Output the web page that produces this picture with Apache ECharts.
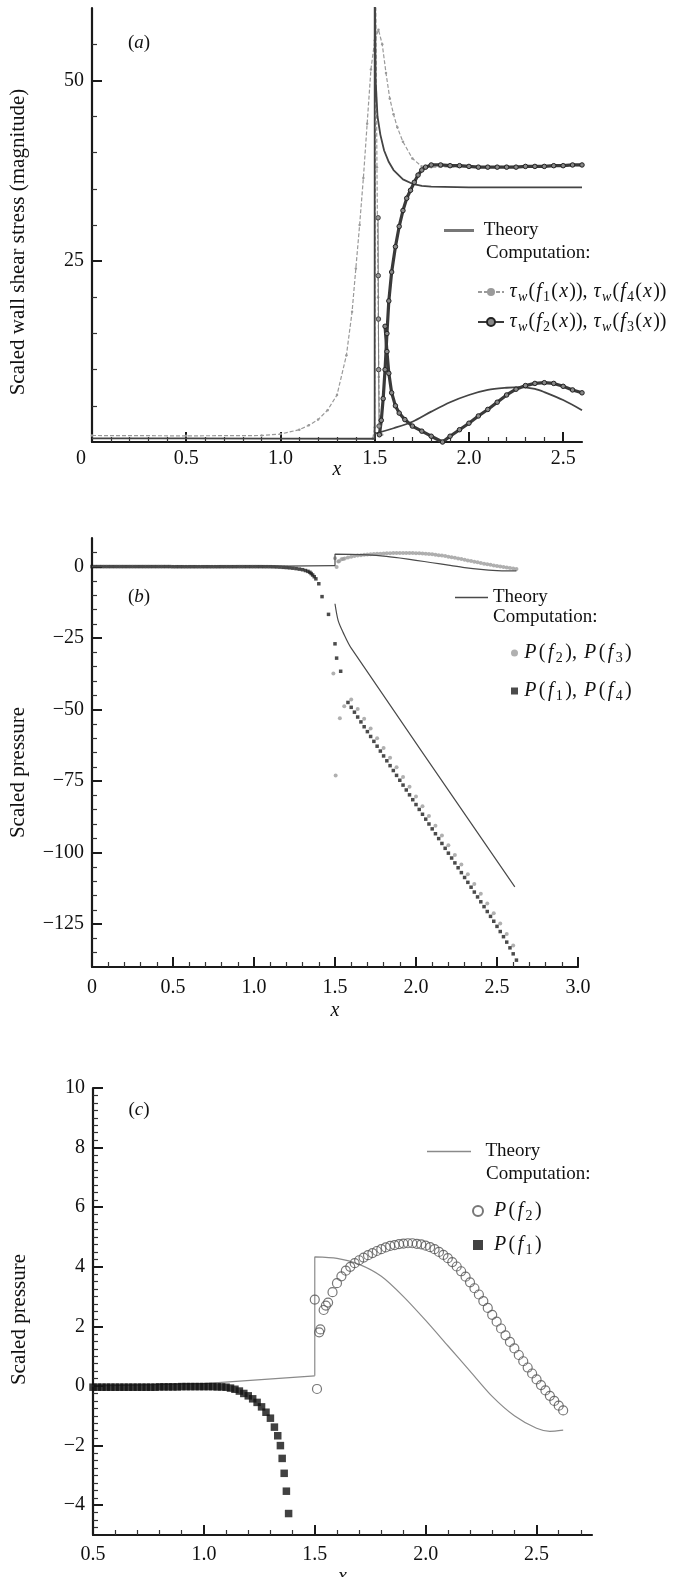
<!DOCTYPE html>
<html>
<head>
<meta charset="utf-8">
<script src="https://cdn.jsdelivr.net/npm/echarts@6/dist/echarts.min.js"></script>
<style>
html,body{margin:0;padding:0;background:#fff;}
#chart{width:673px;height:1577px;}
</style>
</head>
<body>
<div id="chart"></div>
<script>
// ---------------- Panel (a): scaled wall shear stress ----------------
const aXTicks = [0, 0.5, 1.0, 1.5, 2.0, 2.5];
const aYTicks = [25, 50];
const aTheoryUpX = [0, 0.5, 1.0, 1.5, 1.5, 1.505, 1.515, 1.53, 1.55, 1.575, 1.6, 1.65, 1.7, 1.75, 1.8, 2.0, 2.6];
const aTheoryUpY = [0.5, 0.5, 0.48, 0.45, 66, 50, 45, 42.5, 40.3, 38.7, 37.6, 36.3, 35.7, 35.4, 35.3, 35.2, 35.2];
const aTheoryLoX = [1.5, 1.6, 1.7, 1.8, 1.9, 2.0, 2.1, 2.2, 2.27, 2.35, 2.4, 2.5, 2.6];
const aTheoryLoY = [1.15, 1.9, 2.8, 4.2, 5.5, 6.5, 7.2, 7.5, 7.6, 7.35, 6.9, 5.8, 4.4];
const aTau1X = [0, 0.5, 0.9, 1.0, 1.1, 1.15, 1.2, 1.25, 1.3, 1.35, 1.38, 1.4, 1.42, 1.44, 1.46, 1.48, 1.5, 1.52, 1.54, 1.56, 1.58, 1.6, 1.62, 1.65, 1.7, 1.75, 1.8, 2.2, 2.6];
const aTau1Y = [0.9, 0.85, 0.9, 1.1, 1.7, 2.3, 3.1, 4.4, 6.5, 12, 18, 24, 30, 36.5, 44, 51.5, 55.5, 57, 55, 51, 47.5, 45.3, 43.5, 41.5, 39.2, 38.1, 38, 38.1, 38.2];
const aTau4X = [1.49, 1.5, 1.505, 1.512, 1.518, 1.522, 1.526, 1.53, 1.54];
const aTau4Y = [0.5, 2, 66, 38, 20, 9, 3, 1.5, 1.0];
const aTau3X = [1.525, 1.535, 1.545, 1.555, 1.565, 1.575, 1.59, 1.61, 1.63, 1.65, 1.67, 1.69, 1.71, 1.73, 1.75, 1.77, 1.8, 1.85, 1.9, 1.95, 2.0, 2.05, 2.1, 2.15, 2.2, 2.25, 2.3, 2.35, 2.4, 2.45, 2.5, 2.55, 2.6];
const aTau3Y = [1, 3, 6, 10, 15, 19.5, 23.5, 27, 29.8, 32, 33.7, 34.8, 35.9, 36.9, 37.6, 38.0, 38.3, 38.3, 38.2, 38.2, 38.1, 38.0, 38.0, 38.0, 38.0, 38.0, 38.1, 38.1, 38.1, 38.2, 38.2, 38.3, 38.3];
const aTau2aX = [1.518, 1.519, 1.52, 1.521, 1.523];
const aTau2aY = [31, 23, 17, 10, 2.2];
const aTau2bX = [1.555, 1.565, 1.575, 1.59, 1.61, 1.63, 1.66, 1.7, 1.75, 1.8, 1.86, 1.9, 1.95, 2.0, 2.05, 2.1, 2.15, 2.2, 2.25, 2.3, 2.35, 2.4, 2.45, 2.5, 2.55, 2.6];
const aTau2bY = [16, 12.5, 9.5, 6.8, 5.0, 4.0, 3.1, 2.2, 1.5, 0.8, 0.0, 0.8, 1.7, 2.6, 3.6, 4.5, 5.5, 6.5, 7.3, 7.8, 8.1, 8.2, 8.1, 7.7, 7.2, 6.8];

// ---------------- Panels (b) and (c): scaled pressure ----------------
const bXTicks = [0, 0.5, 1.0, 1.5, 2.0, 2.5, 3.0];
const bYTicks = [-125, -100, -75, -50, -25, 0];
const cXTicks = [0.5, 1.0, 1.5, 2.0, 2.5];
const cYTicks = [-4, -2, 0, 2, 4, 6, 8, 10];

const theoryPreX = [0, 0.5, 1.0, 1.5];
const theoryPreY = [0, 0.0, 0.08, 0.34];
const theoryPostX = [1.5, 1.5, 1.6, 1.7, 1.8, 1.9, 2.0, 2.1, 2.2, 2.3, 2.4, 2.5, 2.56, 2.62];
const theoryPostY = [0.34, 4.33, 4.28, 4.08, 3.68, 3.0, 2.2, 1.35, 0.5, -0.35, -1.0, -1.42, -1.52, -1.48];
const bTheoryLoX = [1.5, 1.52, 1.55, 1.6, 2.61];
const bTheoryLoY = [-13, -19, -23, -28.5, -112];

const pf2ScatX = [1.50, 1.51, 1.52, 1.525, 1.54, 1.55];
const pf2ScatY = [2.9, -0.1, 1.8, 1.9, 2.55, 2.7];
const pf2X = [1.56, 1.58, 1.60, 1.62, 1.64, 1.66, 1.68, 1.70, 1.72, 1.74, 1.76, 1.78, 1.80, 1.82, 1.84, 1.86, 1.88, 1.90, 1.92, 1.94, 1.96, 1.98, 2.00, 2.02, 2.04, 2.06, 2.08, 2.10, 2.12, 2.14, 2.16, 2.18, 2.20, 2.22, 2.24, 2.26, 2.28, 2.30, 2.32, 2.34, 2.36, 2.38, 2.40, 2.42, 2.44, 2.46, 2.48, 2.50, 2.52, 2.54, 2.56, 2.58, 2.60, 2.62];
const pf2Y = [2.8, 3.15, 3.45, 3.68, 3.87, 4.00, 4.12, 4.22, 4.31, 4.39, 4.46, 4.53, 4.59, 4.65, 4.70, 4.73, 4.76, 4.78, 4.79, 4.79, 4.77, 4.75, 4.71, 4.66, 4.59, 4.50, 4.40, 4.29, 4.16, 4.01, 3.85, 3.67, 3.48, 3.28, 3.07, 2.85, 2.62, 2.39, 2.16, 1.93, 1.70, 1.48, 1.26, 1.04, 0.83, 0.62, 0.42, 0.22, 0.03, -0.15, -0.33, -0.50, -0.66, -0.82];

const pf1X = [0.00, 0.02, 0.04, 0.06, 0.08, 0.10, 0.12, 0.14, 0.16, 0.18, 0.20, 0.22, 0.24, 0.26, 0.28, 0.30, 0.32, 0.34, 0.36, 0.38, 0.40, 0.42, 0.44, 0.46, 0.48,
  0.50, 0.52, 0.54, 0.56, 0.58, 0.60, 0.62, 0.64, 0.66, 0.68, 0.70, 0.72, 0.74, 0.76, 0.78, 0.80, 0.82, 0.84, 0.86, 0.88, 0.90, 0.92, 0.94, 0.96, 0.98,
  1.00, 1.02, 1.04, 1.06, 1.08, 1.10, 1.12, 1.14, 1.16, 1.18, 1.20, 1.22, 1.24, 1.26, 1.28, 1.30,
  1.318, 1.333, 1.345, 1.353, 1.362, 1.372, 1.382, 1.40, 1.42, 1.46, 1.50, 1.51, 1.535];
const pf1Y = [0, 0, 0, 0, 0, 0, 0, 0, 0, 0, 0, 0, 0, 0, 0, 0, 0, 0, 0, 0, 0, 0, 0, 0, 0,
  -0.04, -0.04, -0.04, -0.04, -0.04, -0.04, -0.04, -0.04, -0.04, -0.04, -0.04, -0.04, -0.04, -0.04, -0.04, -0.03, -0.03, -0.03, -0.03, -0.03, -0.02, -0.02, -0.02, -0.02, -0.02,
  -0.02, -0.02, -0.02, -0.03, -0.03, -0.04, -0.07, -0.11, -0.17, -0.25, -0.33, -0.43, -0.55, -0.70, -0.88, -1.08,
  -1.38, -1.67, -2.0, -2.43, -2.93, -3.53, -4.28, -6, -10.5, -16.7, -27, -32, -36.6];

const pf4X = [1.58, 1.60, 1.62, 1.64, 1.66, 1.68, 1.70, 1.72, 1.74, 1.76, 1.78, 1.80, 1.82, 1.84, 1.86, 1.88, 1.90, 1.92, 1.94, 1.96, 1.98, 2.00, 2.02, 2.04, 2.06, 2.08, 2.10, 2.12, 2.14, 2.16, 2.18, 2.20, 2.22, 2.24, 2.26, 2.28, 2.30, 2.32, 2.34, 2.36, 2.38, 2.40, 2.42, 2.44, 2.46, 2.48, 2.50, 2.52, 2.54, 2.56, 2.58, 2.60, 2.62];
const pf4Y = [-47.5, -49.2, -50.9, -52.6, -54.3, -56.0, -57.7, -59.4, -61.1, -62.8, -64.5, -66.2, -67.9, -69.6, -71.3, -73.0, -74.7, -76.4, -78.1, -79.8, -81.5, -83.2, -84.9, -86.6, -88.3, -90.0, -91.7, -93.4, -95.1, -96.8, -98.5, -100.2, -101.9, -103.6, -105.3, -107.0, -108.7, -110.4, -112.1, -113.8, -115.5, -117.2, -118.9, -120.6, -122.3, -124.0, -125.8, -127.6, -129.4, -131.3, -133.3, -135.4, -137.6];
const pf3X = [1.60, 1.64, 1.68, 1.72, 1.76, 1.80, 1.84, 1.88, 1.92, 1.96, 2.00, 2.04, 2.08, 2.12, 2.16, 2.20, 2.24, 2.28, 2.32, 2.36, 2.40, 2.44, 2.48, 2.52, 2.56, 2.60];
const pf3Y = [-46.5, -49.8, -53.2, -56.6, -60.0, -63.4, -66.8, -70.2, -73.6, -77.0, -80.4, -83.8, -87.2, -90.6, -94.0, -97.4, -100.8, -104.2, -107.6, -111.0, -114.4, -117.8, -121.2, -124.8, -128.5, -132.5];
const pf3ScatX = [1.49, 1.504, 1.53, 1.557];
const pf3ScatY = [-37.4, -73, -53, -48.8];

// ---------------- helpers ----------------
const FONT = '"Liberation Serif", "Times New Roman", serif';
const INK = '#111';
const TICK_FS = 20;
const xy = (xs, ys) => xs.map((x, i) => [x, ys[i]]);
const fmtX = v => (v === 0 ? '0' : v.toFixed(1));
const fmtXa = v => (v === 0 ? '{l|0}' : v.toFixed(1));
const fmtY = v => (v < 0 ? '\u2212' + Math.abs(v) : String(v));
function minorList(min, max, step, majors) {
  const out = [];
  const n = Math.round((max - min) / step);
  for (let k = 1; k < n; k++) {
    const v = +(min + k * step).toFixed(4);
    if (!majors.some(m => Math.abs(m - v) < 1e-6)) out.push(v);
  }
  return out;
}
function axisPair(dim, gi, o) {
  const pos = dim === 'x' ? 'bottom' : 'left';
  const main = {
    gridIndex: gi, type: 'value', position: pos, min: o.min, max: o.max,
    axisLine: { show: true, onZero: false, lineStyle: { color: '#1a1a1a', width: 2.2 } },
    axisTick: { show: true, inside: true, length: 10, customValues: o.major, lineStyle: { color: '#1a1a1a', width: 2 } },
    axisLabel: { show: true, customValues: o.major, formatter: o.fmt, fontFamily: FONT, fontSize: TICK_FS, color: INK, margin: o.margin,
      rich: { l: { fontFamily: FONT, fontSize: TICK_FS, color: INK, padding: [0, 22, 0, 0] } } },
    splitLine: { show: false },
    name: o.name, nameLocation: 'middle', nameGap: o.nameGap, nameRotate: dim === 'x' ? 0 : 90,
    nameMoveOverlap: false,
    nameTextStyle: { fontFamily: FONT, fontSize: dim === 'x' ? 20 : 21, color: INK, fontStyle: o.nameItalic ? 'italic' : 'normal',
      padding: o.namePad || 0 }
  };
  const minor = {
    gridIndex: gi, type: 'value', position: pos, min: o.min, max: o.max,
    axisLine: { show: false, onZero: false },
    axisTick: { show: true, inside: true, length: 5, customValues: minorList(o.min, o.max, o.minor, o.major), lineStyle: { color: '#333', width: 1.2 } },
    axisLabel: { show: false }, splitLine: { show: false }
  };
  return [main, minor];
}

const xAxes = [].concat(
  axisPair('x', 0, { min: 0, max: 2.6, major: aXTicks, minor: 0.1, fmt: fmtXa, margin: 7, name: 'x', nameItalic: true, nameGap: 18 }),
  axisPair('x', 1, { min: 0, max: 3.0, major: bXTicks, minor: 0.1, fmt: fmtX, margin: 11, name: 'x', nameItalic: true, nameGap: 34 }),
  axisPair('x', 2, { min: 0.5, max: 2.75, major: cXTicks, minor: 0.1, fmt: fmtX, margin: 10, name: 'x', nameItalic: true, nameGap: 32 })
);
const yAxes = [].concat(
  axisPair('y', 0, { min: 0, max: 60, major: aYTicks, minor: 5, fmt: fmtY, margin: 8, name: 'Scaled wall shear stress (magnitude)', nameGap: 63, namePad: [0, 34, 0, 0] }),
  axisPair('y', 1, { min: -140, max: 10, major: bYTicks, minor: 5, fmt: fmtY, margin: 8, name: 'Scaled pressure', nameGap: 63, namePad: [0, 40, 0, 0] }),
  axisPair('y', 2, { min: -5, max: 10, major: cYTicks, minor: 0.25, fmt: fmtY, margin: 8, name: 'Scaled pressure', nameGap: 63, namePad: [0, 16, 0, 0] })
);

const LFS = 19;
function mathStyles(fs, sfs, pad, drop) {
  return {
    n: { fontFamily: FONT, fontSize: fs, color: INK, padding: [0, pad, 0, pad] },
    i: { fontFamily: FONT, fontSize: fs, color: INK, fontStyle: 'italic', padding: [0, pad, 0, pad] },
    s: { fontFamily: FONT, fontSize: sfs, color: INK, padding: [drop, pad, 0, pad] },
    si: { fontFamily: FONT, fontSize: sfs, color: INK, fontStyle: 'italic', padding: [drop, pad, 0, pad] }
  };
}
const RICH = Object.assign({ t: { fontFamily: FONT, fontSize: LFS, color: INK } }, mathStyles(20, 14, 1.2, 10));
const RICH_TAU = mathStyles(20, 14, 0.6, 10);
const LEG = {
  theoryA: '{t| Theory}', theoryB: '{t|Theory}', theoryC: '{t|  Theory}',
  tau14: '{i|\u03c4}{si|w}{n|(}{i|f}{s|1}{n|(}{i|x}{n|)),} {i|\u03c4}{si|w}{n|(}{i|f}{s|4}{n|(}{i|x}{n|))}',
  tau23: '{i|\u03c4}{si|w}{n|(}{i|f}{s|2}{n|(}{i|x}{n|)),} {i|\u03c4}{si|w}{n|(}{i|f}{s|3}{n|(}{i|x}{n|))}',
  pB23: '{i|P}{n|(}{i|f}{s|2}{n|),} {i|P}{n|(}{i|f}{s|3}{n|)}',
  pB14: '{i|P}{n|(}{i|f}{s|1}{n|),} {i|P}{n|(}{i|f}{s|4}{n|)}',
  pC2: '{t| }{i|P}{n|(}{i|f}{s|2}{n|)}',
  pC1: '{t| }{i|P}{n|(}{i|f}{s|1}{n|)}'
};
const legBase = { selectedMode: false, padding: 0, formatter: n => LEG[n], textStyle: { fontFamily: FONT, fontSize: LFS, color: INK, rich: RICH } };

const theoryA = { color: '#444', width: 1.8 };
const theoryB = { color: '#4a4a4a', width: 1.2 };
const theoryC = { color: '#8a8a8a', width: 1.2 };

const series = [
  // panel a
  { name: 'theoryA', type: 'line', xAxisIndex: 0, yAxisIndex: 0, symbol: 'none', data: xy(aTheoryUpX, aTheoryUpY), lineStyle: theoryA, itemStyle: { color: '#777' }, z: 4 },
  { name: 'theoryA', type: 'line', xAxisIndex: 0, yAxisIndex: 0, symbol: 'none', smooth: 0.3, data: xy(aTheoryLoX, aTheoryLoY), lineStyle: theoryA, itemStyle: { color: '#777' }, z: 4 },
  { name: 'tau14', type: 'line', xAxisIndex: 0, yAxisIndex: 0, symbol: 'circle', symbolSize: 2.5, data: xy(aTau1X, aTau1Y), lineStyle: { color: '#9a9a9a', width: 1.2, type: [4, 2] }, itemStyle: { color: '#9a9a9a' }, z: 3 },
  { name: 'tau14', type: 'line', xAxisIndex: 0, yAxisIndex: 0, symbol: 'circle', symbolSize: 2.5, data: xy(aTau4X, aTau4Y), lineStyle: { color: '#9a9a9a', width: 1.2, type: [4, 2] }, itemStyle: { color: '#9a9a9a' }, z: 3 },
  { name: 'tau23', type: 'line', xAxisIndex: 0, yAxisIndex: 0, symbol: 'circle', symbolSize: 4.5, data: xy(aTau3X, aTau3Y), lineStyle: { color: '#3a3a3a', width: 3.2 }, itemStyle: { color: '#888', borderColor: '#222', borderWidth: 1 }, z: 5 },
  { name: 'tau23', type: 'line', xAxisIndex: 0, yAxisIndex: 0, symbol: 'circle', symbolSize: 4.5, data: xy(aTau2aX, aTau2aY), lineStyle: { color: '#777', width: 1 }, itemStyle: { color: '#999', borderColor: '#444', borderWidth: 1 }, z: 5 },
  { name: 'tau23', type: 'line', xAxisIndex: 0, yAxisIndex: 0, symbol: 'circle', symbolSize: 4.5, data: xy(aTau2bX, aTau2bY), lineStyle: { color: '#3a3a3a', width: 3.2 }, itemStyle: { color: '#888', borderColor: '#222', borderWidth: 1 }, z: 5 },
  // panel b
  { name: 'theoryB', type: 'line', xAxisIndex: 2, yAxisIndex: 2, symbol: 'none', data: xy(theoryPreX, theoryPreY), lineStyle: theoryB, itemStyle: { color: theoryB.color }, z: 4 },
  { name: 'theoryB', type: 'line', xAxisIndex: 2, yAxisIndex: 2, symbol: 'none', smooth: 0.25, data: xy(theoryPostX, theoryPostY), lineStyle: theoryB, itemStyle: { color: theoryB.color }, z: 4 },
  { name: 'theoryB', type: 'line', xAxisIndex: 2, yAxisIndex: 2, symbol: 'none', smooth: 0.3, data: xy(bTheoryLoX, bTheoryLoY), lineStyle: theoryB, itemStyle: { color: theoryB.color }, z: 4 },
  { name: 'pB23', type: 'scatter', xAxisIndex: 2, yAxisIndex: 2, symbol: 'circle', symbolSize: 4,
    data: xy(pf2ScatX, pf2ScatY).concat(xy(pf2X, pf2Y), xy(pf3X, pf3Y), xy(pf3ScatX, pf3ScatY)), itemStyle: { color: '#9c9c9c' }, z: 3 },
  { name: 'pB14', type: 'scatter', xAxisIndex: 2, yAxisIndex: 2, symbol: 'rect', symbolSize: 3.5,
    data: xy(pf1X, pf1Y).concat(xy(pf4X, pf4Y)), itemStyle: { color: '#1e1e1e' }, z: 3 },
  // panel c
  { name: 'theoryC', type: 'line', xAxisIndex: 4, yAxisIndex: 4, symbol: 'none', data: xy(theoryPreX, theoryPreY), lineStyle: theoryC, itemStyle: { color: theoryC.color }, z: 2 },
  { name: 'theoryC', type: 'line', xAxisIndex: 4, yAxisIndex: 4, symbol: 'none', smooth: 0.25, data: xy(theoryPostX, theoryPostY), lineStyle: theoryC, itemStyle: { color: theoryC.color }, z: 2 },
  { name: 'pC2', type: 'scatter', xAxisIndex: 4, yAxisIndex: 4, symbol: 'circle', symbolSize: 9,
    data: xy(pf2ScatX, pf2ScatY).concat(xy(pf2X, pf2Y)), itemStyle: { color: 'rgba(255,255,255,0)', borderColor: '#555', borderWidth: 1.2 }, z: 3 },
  { name: 'pC1', type: 'scatter', xAxisIndex: 4, yAxisIndex: 4, symbol: 'rect', symbolSize: 7.5,
    data: xy(pf1X, pf1Y), itemStyle: { color: '#111' }, z: 3 }
];

function label(x, y, txt) {
  return { type: 'text', x: x, y: y, style: { text: txt, fontFamily: FONT, fontSize: 19, fill: INK, align: 'center', verticalAlign: 'middle',
    rich: { i: { fontFamily: FONT, fontSize: 19, fontStyle: 'italic', color: INK } } } };
}
function plain(x, y, txt) {
  return { type: 'text', x: x, y: y, style: { text: txt, fontFamily: FONT, fontSize: LFS, fill: INK, align: 'left', verticalAlign: 'middle' } };
}

const option = {
  animation: false,
  backgroundColor: '#fff',
  grid: [
    { left: 92, top: 8, width: 490, height: 434, outerBoundsMode: 'none', containLabel: false },
    { left: 92, top: 538, width: 486, height: 429, outerBoundsMode: 'none', containLabel: false },
    { left: 93, top: 1088, width: 499, height: 447, outerBoundsMode: 'none', containLabel: false }
  ],
  xAxis: xAxes,
  yAxis: yAxes,
  legend: [
    Object.assign({}, legBase, { data: ['theoryA'], left: 444, top: 221, icon: 'rect', itemWidth: 30, itemHeight: 3 }),
    Object.assign({}, legBase, { data: ['tau14', 'tau23'], orient: 'vertical', left: 477, top: 282, itemGap: 8, itemWidth: 26, itemHeight: 10,
      textStyle: { fontFamily: FONT, fontSize: LFS, color: INK, rich: RICH_TAU } }),
    Object.assign({}, legBase, { data: ['theoryB'], left: 455, top: 588, icon: 'rect', itemWidth: 33, itemHeight: 1.5 }),
    Object.assign({}, legBase, { data: ['pB23', 'pB14'], orient: 'vertical', left: 511, top: 643, itemGap: 16, itemWidth: 7, itemHeight: 7 }),
    Object.assign({}, legBase, { data: ['theoryC'], left: 427, top: 1142, icon: 'rect', itemWidth: 44, itemHeight: 1.5 }),
    Object.assign({}, legBase, { data: ['pC2', 'pC1'], orient: 'vertical', left: 472, top: 1201, itemGap: 12, itemWidth: 10, itemHeight: 10 })
  ],
  graphic: [
    label(139, 43, '({i|a})'),
    label(139, 597, '({i|b})'),
    label(139, 1110, '({i|c})'),
    plain(486, 253, 'Computation:'),
    plain(493, 617, 'Computation:'),
    plain(486, 1174, 'Computation:')
  ],
  series: series
};

const chart = echarts.init(document.getElementById('chart'), null, { renderer: 'canvas' });
chart.setOption(option);
</script>
</body>
</html>
